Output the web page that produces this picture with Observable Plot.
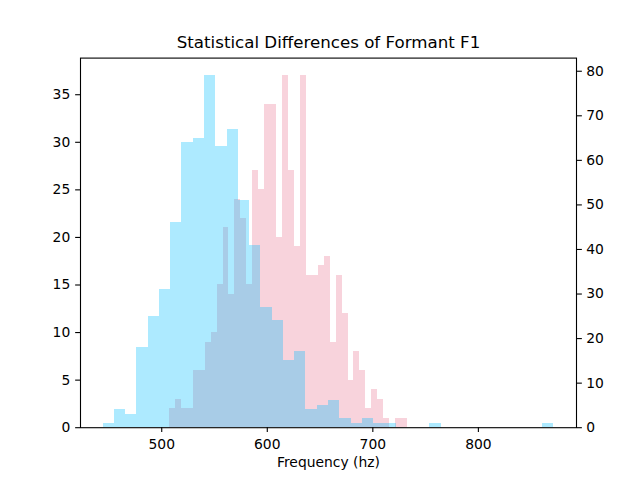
<!DOCTYPE html>
<html>
<head>
<meta charset="utf-8">
<script src="https://cdn.jsdelivr.net/npm/d3@7"></script>
<script src="https://cdn.jsdelivr.net/npm/@observablehq/plot@0.6"></script>
<style>
  html, body { margin: 0; padding: 0; background: #fff; }
</style>
</head>
<body>
<div id="chart"></div>
<script>
// Pink histogram (left axis): 40 bins
const pinkStart = 507.3;
const pinkWidth = 5.64;
const pinkCounts = [2,3,2,2,6,6,9,10,15,21,14,24,22,15,27,25,34,34,20,37,27,19,37,16,16,17,18,9,16,12,5,8,6,2,4,3,1,0,1,1];

// Blue histogram (right axis): 40 bins
const blueStart = 444.4;
const blueWidth = 10.68;
const blueCounts = [1,4,3,18,25,31,46,64,65,79,63,67,51,41,27,24,15,17,4,5,6,2,1,2,1,1,0,0,0,1,0,0,0,0,0,0,0,0,0,1];

const xTicks = [500, 600, 700, 800];
const leftTicks = [0, 5, 10, 15, 20, 25, 30, 35];
const rightTicks = [0, 10, 20, 30, 40, 50, 60, 70, 80];

const titleText = "Statistical Differences of Formant F1";
const xLabelText = "Frequency (hz)";

const pinkBins = pinkCounts.map((c, i) => ({x1: pinkStart + i * pinkWidth, x2: pinkStart + (i + 1) * pinkWidth, y1: 0, y2: c}));
const blueBins = blueCounts.map((c, i) => ({x1: blueStart + i * blueWidth, x2: blueStart + (i + 1) * blueWidth, y1: 0, y2: c}));

const leftMax = d3.max(pinkCounts) * 1.05;
const rightMax = d3.max(blueCounts) * 1.05;
const k = leftMax / rightMax;

const lo = Math.min(pinkStart, blueStart);
const hi = Math.max(pinkStart + pinkCounts.length * pinkWidth, blueStart + blueCounts.length * blueWidth);
const pad = 0.05 * (hi - lo);

const chart = Plot.plot({
  width: 640,
  height: 480,
  marginLeft: 80,
  marginRight: 64,
  marginTop: 57.6,
  marginBottom: 52.8,
  style: {fontFamily: "DejaVu Sans", fontSize: "13.89px", color: "black", background: "white", overflow: "visible"},
  x: {domain: [lo - pad, hi + pad], axis: null},
  y: {domain: [0, leftMax], axis: null},
  marks: [
    Plot.rect(pinkBins, {x1: "x1", x2: "x2", y1: "y1", y2: "y2", fill: "#f8d3dc", shapeRendering: "crispEdges"}),
    Plot.rect(blueBins, {x1: "x1", x2: "x2", y1: "y1", y2: d => d.y2 * k, fill: "#00bfff", fillOpacity: 0.32, shapeRendering: "crispEdges"}),
    Plot.frame({stroke: "black", strokeWidth: 1.1}),
    Plot.axisX(xTicks, {anchor: "bottom", tickSize: 4.86, tickPadding: 6.5, strokeWidth: 1.1, label: null, tickFormat: d => String(d)}),
    Plot.axisY(leftTicks, {anchor: "left", tickSize: 4.86, tickPadding: 5.4, strokeWidth: 1.1, label: null, tickFormat: d => String(d)}),
    Plot.axisY(rightTicks, {anchor: "right", y: d => d * k, tickSize: 4.86, tickPadding: 4.9, strokeWidth: 1.1, label: null, tickFormat: d => String(d)}),
    Plot.text([titleText], {text: d => d, frameAnchor: "top", lineAnchor: "bottom", dy: -9.8, fontSize: 16.67}),
    Plot.text([xLabelText], {text: d => d, frameAnchor: "bottom", lineAnchor: "bottom", dy: 38.8, fontSize: 13.89})
  ]
});

document.getElementById("chart").appendChild(chart);
</script>
</body>
</html>
